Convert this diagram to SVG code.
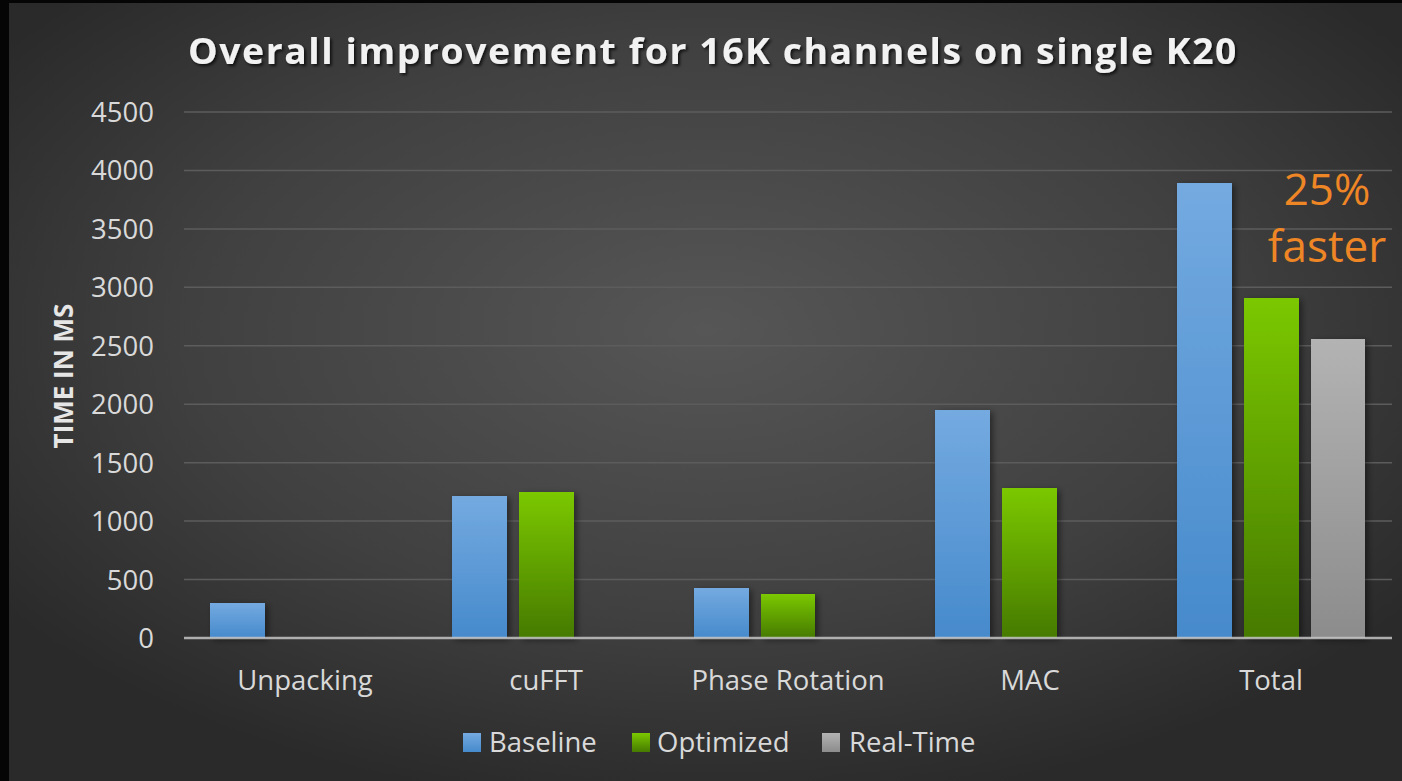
<svg xmlns="http://www.w3.org/2000/svg" width="1402" height="781" viewBox="0 0 1402 781">
  <defs>
    <radialGradient id="bg" cx="0.5" cy="0.42" r="0.62" gradientUnits="objectBoundingBox">
      <stop offset="0" stop-color="#565656"/>
      <stop offset="0.6" stop-color="#404040"/>
      <stop offset="1" stop-color="#2a2a2a"/>
    </radialGradient>
    <linearGradient id="blue" x1="0" y1="0" x2="0" y2="1">
      <stop offset="0" stop-color="#74aae0"/>
      <stop offset="1" stop-color="#468acc"/>
    </linearGradient>
    <linearGradient id="green" x1="0" y1="0" x2="0" y2="1">
      <stop offset="0" stop-color="#7bc800"/>
      <stop offset="1" stop-color="#467a00"/>
    </linearGradient>
    <linearGradient id="gray" x1="0" y1="0" x2="0" y2="1">
      <stop offset="0" stop-color="#b3b3b3"/>
      <stop offset="1" stop-color="#8c8c8c"/>
    </linearGradient>
    <filter id="barShadow" x="-20%" y="-10%" width="150%" height="130%">
      <feDropShadow dx="3" dy="2" stdDeviation="3" flood-color="#000" flood-opacity="0.45"/>
    </filter>
    <filter id="textShadow" x="-5%" y="-30%" width="110%" height="170%">
      <feDropShadow dx="2" dy="2" stdDeviation="1.5" flood-color="#000" flood-opacity="0.7"/>
    </filter>
    <style>
      .title { font-family: "Open Sans", "DejaVu Sans", sans-serif; font-weight: 700; font-size: 35px; fill: #f2f2f2; letter-spacing: 1.5px; }
      .tick { font-family: "Open Sans", "DejaVu Sans", sans-serif; font-size: 27.5px; fill: #d9d9d9; text-anchor: end; }
      .cat { font-family: "Open Sans", "DejaVu Sans", sans-serif; font-size: 27.5px; fill: #d9d9d9; text-anchor: middle; }
      .axisTitle { font-family: "Open Sans", "DejaVu Sans", sans-serif; font-weight: 700; font-size: 26px; fill: #e6e6e6; text-anchor: middle; }
      .legend { font-family: "Open Sans", "DejaVu Sans", sans-serif; font-size: 27.5px; fill: #d9d9d9; }
      .note { font-family: "Open Sans", "DejaVu Sans", sans-serif; font-size: 44px; fill: #ef8626; text-anchor: middle; }
      .grid { stroke: #5c5c5c; stroke-width: 1.5; }
      .zero { stroke: #c4c4c4; stroke-width: 2.5; stroke-opacity: 0.85; }
    </style>
  </defs>

  <!-- frame and panel -->
  <rect x="0" y="0" width="1402" height="781" fill="#050505"/>
  <rect x="9" y="3" width="1393" height="778" fill="url(#bg)"/>

  <!-- chart title -->
  <text class="title" x="188" y="64" textLength="1050" lengthAdjust="spacingAndGlyphs" filter="url(#textShadow)">Overall improvement for 16K channels on single K20</text>

  <!-- gridlines -->
  <g id="gridlines">
    <line class="grid" x1="184" y1="112" x2="1392" y2="112"/>
    <line class="grid" x1="184" y1="170.4" x2="1392" y2="170.4"/>
    <line class="grid" x1="184" y1="228.9" x2="1392" y2="228.9"/>
    <line class="grid" x1="184" y1="287.3" x2="1392" y2="287.3"/>
    <line class="grid" x1="184" y1="345.8" x2="1392" y2="345.8"/>
    <line class="grid" x1="184" y1="404.2" x2="1392" y2="404.2"/>
    <line class="grid" x1="184" y1="462.7" x2="1392" y2="462.7"/>
    <line class="grid" x1="184" y1="521.1" x2="1392" y2="521.1"/>
    <line class="grid" x1="184" y1="579.6" x2="1392" y2="579.6"/>
  </g>

  <!-- value axis -->
  <g id="y-axis">
    <text class="tick" x="154" y="122">4500</text>
    <text class="tick" x="154" y="180.4">4000</text>
    <text class="tick" x="154" y="238.9">3500</text>
    <text class="tick" x="154" y="297.3">3000</text>
    <text class="tick" x="154" y="355.8">2500</text>
    <text class="tick" x="154" y="414.2">2000</text>
    <text class="tick" x="154" y="472.7">1500</text>
    <text class="tick" x="154" y="531.1">1000</text>
    <text class="tick" x="154" y="589.6">500</text>
    <text class="tick" x="154" y="648">0</text>
    <text class="axisTitle" transform="translate(73 376) rotate(-90)">TIME IN MS</text>
  </g>

  <!-- bars -->
  <g id="bars" filter="url(#barShadow)">
    <rect id="unpacking-baseline" x="210" y="603" width="55" height="35" fill="url(#blue)"/>
    <rect id="cufft-baseline" x="452" y="496" width="55" height="142" fill="url(#blue)"/>
    <rect id="cufft-optimized" x="519" y="492" width="55" height="146" fill="url(#green)"/>
    <rect id="phase-baseline" x="694" y="588" width="55" height="50" fill="url(#blue)"/>
    <rect id="phase-optimized" x="761" y="594" width="54" height="44" fill="url(#green)"/>
    <rect id="mac-baseline" x="935" y="410" width="55" height="228" fill="url(#blue)"/>
    <rect id="mac-optimized" x="1002" y="488" width="55" height="150" fill="url(#green)"/>
    <rect id="total-baseline" x="1177" y="183" width="55" height="455" fill="url(#blue)"/>
    <rect id="total-optimized" x="1244" y="298" width="55" height="340" fill="url(#green)"/>
    <rect id="total-realtime" x="1311" y="339" width="54" height="299" fill="url(#gray)"/>
  </g>

  <!-- category axis -->
  <g id="x-axis">
    <line class="zero" x1="184" y1="638" x2="1392" y2="638"/>
    <text class="cat" x="305" y="690">Unpacking</text>
    <text class="cat" x="546" y="690">cuFFT</text>
    <text class="cat" x="788" y="690">Phase Rotation</text>
    <text class="cat" x="1030" y="690">MAC</text>
    <text class="cat" x="1271" y="690">Total</text>
  </g>

  <!-- annotation -->
  <g id="annotation">
    <text class="note" x="1327" y="205">25%</text>
    <text class="note" x="1327" y="262">faster</text>
  </g>

  <!-- legend -->
  <g id="legend">
    <rect x="463" y="733" width="18" height="19" fill="url(#blue)"/>
    <text class="legend" x="489" y="752">Baseline</text>
    <rect x="632" y="733" width="18" height="19" fill="url(#green)"/>
    <text class="legend" x="657" y="752">Optimized</text>
    <rect x="822" y="733" width="18" height="19" fill="url(#gray)"/>
    <text class="legend" x="849" y="752">Real-Time</text>
  </g>
</svg>
